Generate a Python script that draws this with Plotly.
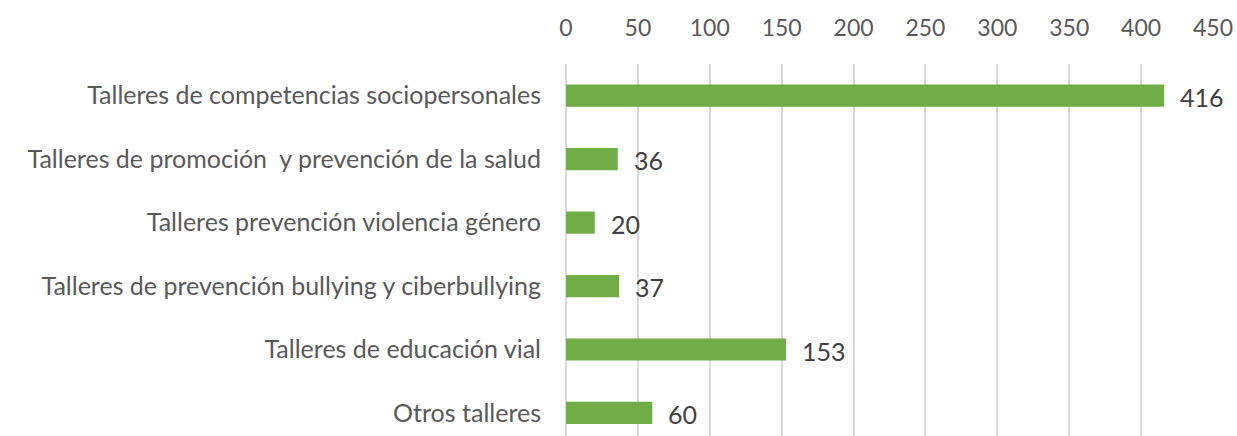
import plotly.graph_objects as go

categories = [
    "Talleres de competencias sociopersonales",
    "Talleres de promoción  y prevención de la salud",
    "Talleres prevención violencia género",
    "Talleres de prevención bullying y ciberbullying",
    "Talleres de educación vial",
    "Otros talleres",
]
values = [416, 36, 20, 37, 153, 60]
x_ticks = [0, 50, 100, 150, 200, 250, 300, 350, 400, 450]

FONT = "Lato"

fig = go.Figure(
    go.Bar(
        x=values,
        y=categories,
        orientation="h",
        marker=dict(color="#70AD47", line=dict(width=0)),
        width=0.35,
        hoverinfo="x+y",
    )
)

for c, v in zip(categories, values):
    fig.add_annotation(
        x=v, y=c, xref="x", yref="y",
        text=str(v), showarrow=False,
        xanchor="left", yanchor="middle", xshift=14, yshift=-1,
        font=dict(family=FONT, size=25, color="#404040"),
    )

fig.update_layout(
    width=1237,
    height=436,
    margin=dict(l=566, r=24, t=64, b=0, autoexpand=False),
    paper_bgcolor="white",
    plot_bgcolor="white",
    showlegend=False,
    font=dict(family=FONT, size=22, color="#595959"),
    xaxis=dict(
        side="top",
        range=[0, 450],
        tickvals=x_ticks,
        ticktext=[str(t) for t in x_ticks],
        showgrid=True,
        gridcolor="#D9D9D9",
        gridwidth=1.5,
        zeroline=True,
        zerolinecolor="#D9D9D9",
        zerolinewidth=1.5,
        showline=False,
        ticks="outside",
        ticklen=18,
        tickcolor="rgba(0,0,0,0)",
        tickfont=dict(family=FONT, size=23, color="#595959"),
        automargin=False,
    ),
    yaxis=dict(
        type="category",
        range=[5.363, -0.5],
        showgrid=False,
        showline=False,
        ticks="outside",
        ticklen=19,
        tickcolor="rgba(0,0,0,0)",
        tickfont=dict(family=FONT, size=25, color="#595959"),
        automargin=False,
    ),
)

fig.write_html(
    "out.html",
    config={"displayModeBar": False},
    post_script="document.body.style.margin='0';document.body.style.overflow='hidden';",
)
